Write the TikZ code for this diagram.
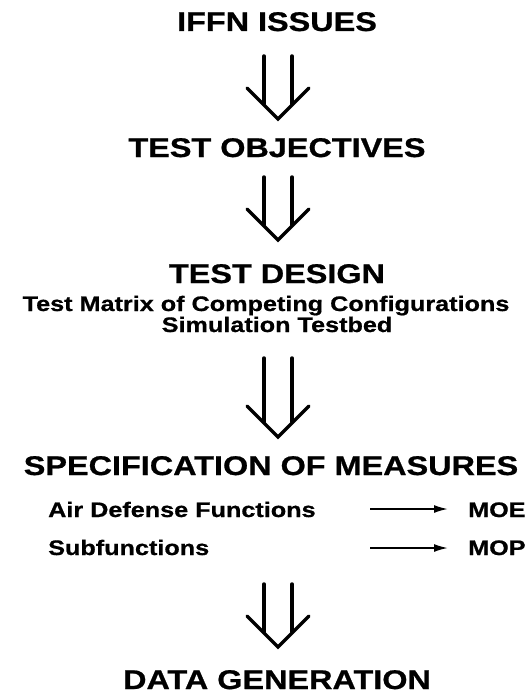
\documentclass[tikz,border=0pt]{standalone}
\usepackage{fontspec}
\newfontfamily\chartfont{Liberation Sans}[FakeStretch=1.2, BoldFeatures={FakeBold=0.8}]
\usetikzlibrary{arrows.meta}
\tikzset{
  heading/.style={font=\chartfont\bfseries\fontsize{27}{30}\selectfont, inner sep=0pt, anchor=base},
  subline/.style={font=\chartfont\bfseries\fontsize{21}{24}\selectfont, inner sep=0pt, anchor=base},
  openarrow/.style={line width=3.5pt, line cap=round},
  measarrow/.style={line width=1.8pt, -{Latex[length=14pt,width=8pt]}}
}
\begin{document}
\begin{tikzpicture}[x=1pt,y=-1pt]
\useasboundingbox (0,0) rectangle (527,698);
\node[heading] (issues) at (277,31) {IFFN ISSUES};
\node[heading] (objectives) at (277,157) {TEST OBJECTIVES};
\node[heading] (design) at (277,283) {TEST DESIGN};
\node[subline] (matrix) at (266,311) {Test Matrix of Competing Configurations};
\node[subline] (testbed) at (277,332) {Simulation Testbed};
\node[heading] (measures) at (271,475) {SPECIFICATION OF MEASURES};
\node[subline, anchor=base west] (airdef) at (48,517) {Air Defense Functions};
\node[subline, anchor=base west] (subfn) at (48,555) {Subfunctions};
\node[subline, anchor=base west] (moe) at (468,517) {MOE};
\node[subline, anchor=base west] (mop) at (468,555) {MOP};
\node[heading] (datagen) at (277,689) {DATA GENERATION};
% open double arrows between the stages (top of stems / tip)
\foreach \top/\tip in {56/119,177/240,358/437,584/647}{
  \draw[openarrow] (264,\top) -- (264,\tip-15);
  \draw[openarrow] (292,\top) -- (292,\tip-15);
  \draw[openarrow] (247,\tip-31) -- (278,\tip) -- (309,\tip-31);
}
% measures
\coordinate (moetail) at (370,509);
\coordinate (moptail) at (370,548);
\draw[measarrow, shorten >=20pt] (moetail) -- (moetail -| moe.west);
\draw[measarrow, shorten >=20pt] (moptail) -- (moptail -| mop.west);
\end{tikzpicture}
\end{document}
